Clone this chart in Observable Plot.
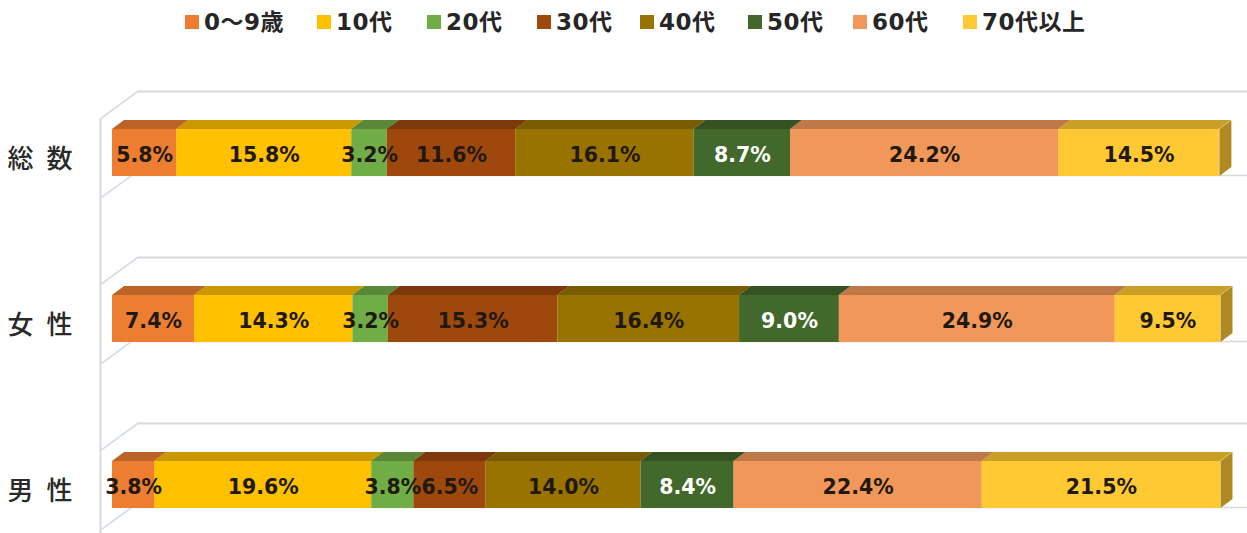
<!DOCTYPE html>
<html>
<head>
<meta charset="utf-8">
<script src="https://cdn.jsdelivr.net/npm/d3@7"></script>
<script src="https://cdn.jsdelivr.net/npm/@observablehq/plot@0.6"></script>
<style>
  html, body { margin: 0; padding: 0; background: #fff; }
  #legend { height: 50px; box-sizing: border-box; padding-top: 7px; padding-left: 185px; display: flex; align-items: flex-start;
    font-family: "DejaVu Sans", "Noto Sans CJK JP", sans-serif; font-weight: 700; font-size: 23px; letter-spacing: 0.5px; line-height: 30px; color: #262626; }
  .item { display: flex; align-items: center; }
  .sw { width: 14px; height: 14px; margin-right: 5px; }
  #chart svg { display: block; }
</style>
</head>
<body>
<div id="legend"></div>
<div id="chart"></div>
<script>
// ---- data ----
const ages = ["0～9歳", "10代", "20代", "30代", "40代", "50代", "60代", "70代以上"];
const ageColors = ["#ED7D31", "#FFC000", "#70AD47", "#9E480E", "#997300", "#43682B", "#F1975A", "#FFC933"];
const categories = ["総数", "女性", "男性"];
const categoryLabels = ["総\u2002数", "女\u2002性", "男\u2002性"];
const totalValues  = [5.8, 15.8, 3.2, 11.6, 16.1, 8.7, 24.2, 14.5];
const femaleValues = [7.4, 14.3, 3.2, 15.3, 16.4, 9.0, 24.9, 9.5];
const maleValues   = [3.8, 19.6, 3.8, 6.5, 14.0, 8.4, 22.4, 21.5];
const whiteLabelAge = "50代";

// ---- table ----
const series = [totalValues, femaleValues, maleValues];
const data = categories.flatMap((cat, i) => ages.map((age, j) => ({cat, age, value: series[i][j]})));
const colorOf = Object.fromEntries(ages.map((a, i) => [a, ageColors[i]]));
const topOf = a => d3.color(colorOf[a]).darker(0.65).formatHex();
const sideOf = a => d3.color(colorOf[a]).darker(1.05).formatHex();

// ---- legend ----
const legendItemWidths = [132, 110, 110, 103, 108, 105, 110, 150];
const legend = document.getElementById("legend");
ages.forEach((a, i) => {
  const it = document.createElement("span");
  it.className = "item";
  it.style.width = legendItemWidths[i] + "px";
  it.innerHTML = `<span class="sw" style="background:${ageColors[i]}"></span><span>${a}</span>`;
  legend.appendChild(it);
});

// ---- chart ----
const bandwidth = 47, depthY = 9, depthX = 12;
const wall = "#d9d9d9", wallDiag = "#d3dbe6";
const labelFont = "'DejaVu Sans', sans-serif";
const plot = Plot.plot({
  width: 1247,
  height: 483,
  marginLeft: 112,
  marginRight: 27,
  marginTop: 0,
  marginBottom: 0,
  x: {domain: [0, 100], axis: null},
  y: {domain: categories, range: [62.4, 474.6], paddingInner: 0.717, paddingOuter: 0.1, axis: null},
  color: {type: "identity"},
  style: {fontFamily: "'Noto Sans CJK JP', sans-serif", background: "#fff", overflow: "visible"},
  marks: [
    // back wall lines
    Plot.ruleY(categories, {y: d => d, dy: -61.5, insetLeft: 25, insetRight: -27, stroke: wall, strokeWidth: 2}),
    Plot.ruleY(categories, {y: d => d, dy: 22.5, insetLeft: 25, insetRight: -27, stroke: wall, strokeWidth: 1.5}),
    // left wall
    Plot.ruleX([0], {dx: -12, insetTop: 68, stroke: wall, strokeWidth: 2}),
    // left-wall diagonals
    Plot.ruleY(categories, {y: d => d, dy: -34, insetLeft: -12, insetRight: 1083, stroke: wallDiag, strokeWidth: 2}),
    Plot.ruleY(categories, {y: d => d, dy: 45.5, insetLeft: -12, insetRight: 1083, stroke: wallDiag, strokeWidth: 2}),
    // side faces
    Plot.tickX(data, Plot.stackX2({x: "value", y: "cat", stroke: d => sideOf(d.age), strokeWidth: depthX, dx: depthX / 2})),
    // top faces
    Plot.barX(data, Plot.stackX({x: "value", y: "cat", fill: d => topOf(d.age), insetBottom: bandwidth - depthY, dy: -depthY})),
    // front faces
    Plot.barX(data, Plot.stackX({x: "value", y: "cat", fill: d => colorOf[d.age]})),
    // value labels
    Plot.text(data, Plot.stackX({x: "value", y: "cat", text: d => d.age === whiteLabelAge ? "" : d.value.toFixed(1) + "%",
      fill: "#21190f", fontSize: 20.5, fontWeight: "bold", fontFamily: labelFont, dy: 2})),
    Plot.text(data, Plot.stackX({x: "value", y: "cat", text: d => d.age === whiteLabelAge ? d.value.toFixed(1) + "%" : "",
      fill: "#ffffff", fontSize: 20.5, fontWeight: "bold", fontFamily: labelFont, dy: 2})),
    // category labels
    Plot.text(categories, {y: d => d, text: (d, i) => categoryLabels[i], frameAnchor: "left", textAnchor: "end", dx: -40, dy: 7,
      fontSize: 26, fontWeight: 500, fill: "#2a2a2a"})
  ]
});

// 3D skew of faces and wall diagonals
const sel = d3.select(plot);
const skewTop = Math.atan(-depthX / depthY) * 180 / Math.PI;   // skewX for top faces
const skewSide = Math.atan(-depthY / depthX) * 180 / Math.PI;  // skewY for side faces
sel.selectAll("rect").each(function() {
  const h = +this.getAttribute("height");
  if (Math.abs(h - depthY) > 0.6) return;
  const yb = +this.getAttribute("y") + h;
  const prev = this.getAttribute("transform") || "";
  this.setAttribute("transform", `${prev} translate(0,${yb}) skewX(${skewTop}) translate(0,${-yb})`);
});
sel.selectAll(`g[stroke-width="${depthX}"] line`).each(function() {
  const xl = +this.getAttribute("x1") - depthX / 2;
  const prev = this.getAttribute("transform") || "";
  this.setAttribute("transform", `${prev} translate(${xl},0) skewY(${skewSide}) translate(${-xl},0)`);
});
sel.selectAll(`g[stroke="${wallDiag}"] line`).each(function() {
  const xl = +this.getAttribute("x1");
  const prev = this.getAttribute("transform") || "";
  this.setAttribute("transform", `${prev} translate(${xl},0) skewY(-36.1) translate(${-xl},0)`);
});
document.getElementById("chart").appendChild(plot);
</script>
</body>
</html>
